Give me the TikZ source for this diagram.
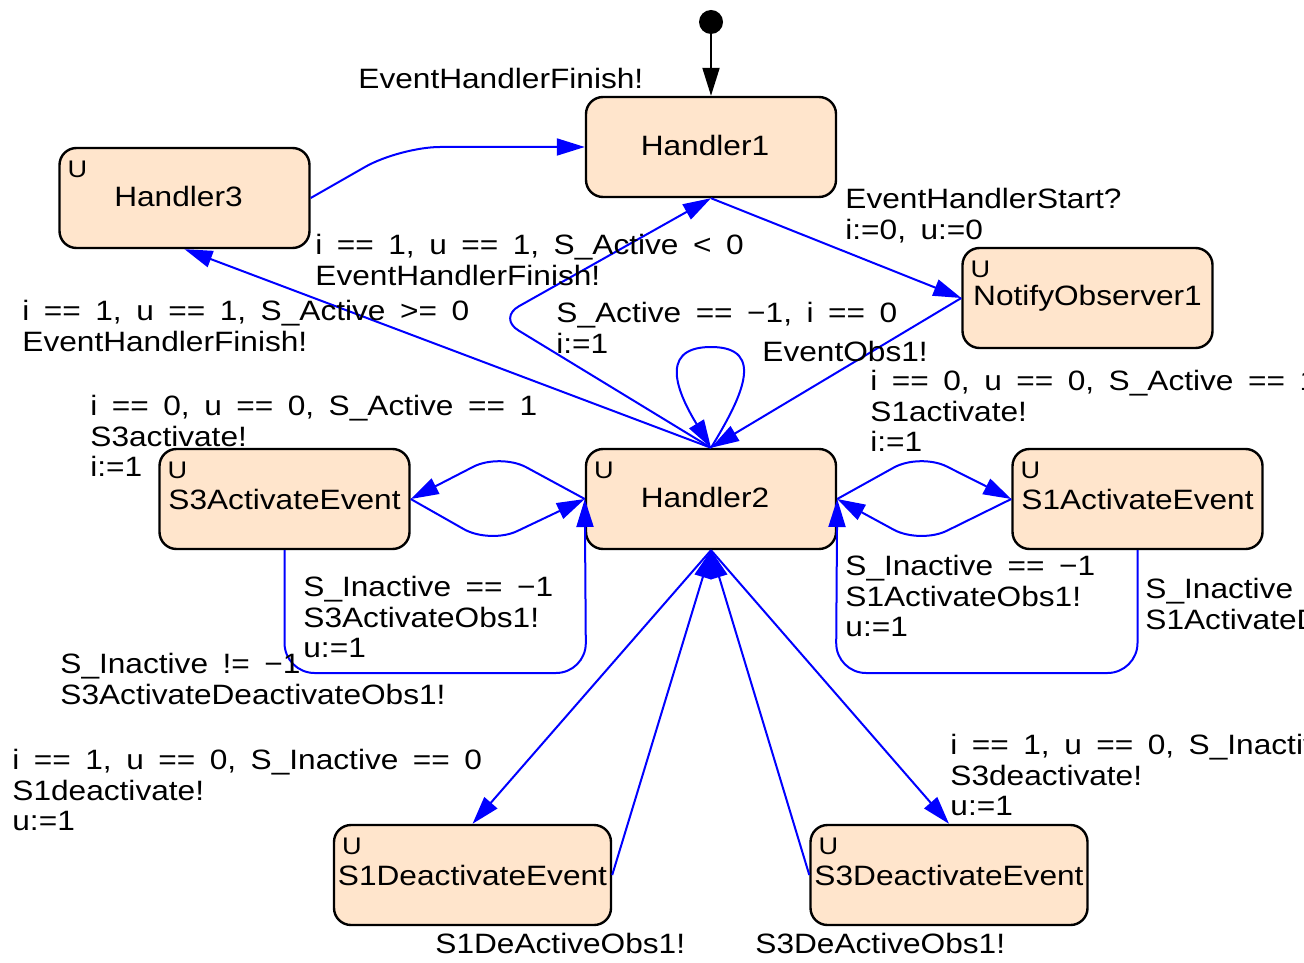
\documentclass[tikz,border=0pt]{standalone}
\usepackage{fontspec}
\setmainfont{Liberation Sans}[FakeStretch=1.13,WordSpace=1.65]
\usetikzlibrary{arrows.meta}
\definecolor{peach}{RGB}{255,229,204}
\begin{document}
\begin{tikzpicture}[x=0.5pt,y=-0.5pt,
 state/.style={draw=black, line width=1.2pt, fill=peach, rounded corners=8.5pt, minimum width=125pt, minimum height=50pt, inner sep=0pt, font=\fontsize{14}{15}\selectfont},
 widestate/.style={minimum width=138.5pt},
 ulab/.style={font=\fontsize{12}{12}\selectfont, inner sep=0pt, anchor=north west},
 lab/.style={font=\fontsize{14}{15.2}\selectfont, inner sep=0pt, anchor=north west, align=left},
 tr/.style={blue, line width=1pt, -{Triangle[length=14pt,width=8.5pt]}},
]
\useasboundingbox (0,0) rectangle (1304,962);
\clip (0,0) rectangle (1304,962);

% states
\node[state] (h1) at (711,147) {\raisebox{1.5pt}{Handler1}\hspace*{6pt}};
\node[state] (h3) at (184.5,198) {\raisebox{1.5pt}{Handler3}\hspace*{6pt}};
\node[state] (no) at (1087.5,298) {\raisebox{-2pt}{NotifyObserver1}};
\node[state] (h2) at (711,499) {\raisebox{1.5pt}{Handler2}\hspace*{6pt}};
\node[state] (s3a) at (284.5,499) {\raisebox{-1pt}{S3ActivateEvent}};
\node[state] (s1a) at (1137.5,499) {\raisebox{-1pt}{S1ActivateEvent}};
\node[state,widestate] (s1d) at (472.5,875) {\raisebox{-1pt}{S1DeactivateEvent}};
\node[state,widestate] (s3d) at (949,875) {\raisebox{-1pt}{S3DeactivateEvent}};

\node[ulab] (u3) at ([shift={(9,14)}]h3.north west) {U};
\node[ulab] (uno) at ([shift={(9,14)}]no.north west) {U};
\node[ulab] (u2) at ([shift={(9,14)}]h2.north west) {U};
\node[ulab] (us3a) at ([shift={(9,14)}]s3a.north west) {U};
\node[ulab] (us1a) at ([shift={(9,14)}]s1a.north west) {U};
\node[ulab] (us1d) at ([shift={(9,14)}]s1d.north west) {U};
\node[ulab] (us3d) at ([shift={(9,14)}]s3d.north west) {U};

% initial
\node[circle, fill=black, minimum size=12pt, inner sep=0pt] (init) at (711,22) {};
\draw[black, line width=1pt, -{Triangle[length=14pt,width=8.5pt]}] (init) -- (h1.north);

% transitions
\draw[tr, rounded corners=20pt] (h3.east) -- (400,147) -- (h1.west);
\draw[tr, rounded corners=12pt] (h2.north) -- (498,318) -- (h1.south);
\draw[tr] (h2.north) -- (h3.south);
\draw[tr] (h1.south) -- (no.west);
\draw[tr] (no.west) -- (h2.north);
\draw[tr] (h2.north) .. controls (740,400) and (768,347) .. (711,347) .. controls (654,347) and (682,400) .. (h2.north);
\draw[tr, rounded corners=15pt] (h2.west) -- (500,453) -- (s3a.east);
\draw[tr, rounded corners=15pt] (s3a.east) -- (490,544) -- (h2.west);
\draw[tr, rounded corners=15pt] (h2.east) -- (920,453) -- (s1a.west);
\draw[tr, rounded corners=15pt] (s1a.west) -- (920,544) -- (h2.east);
\draw[tr, rounded corners=15pt] (s3a.south) -- (284.5,673) -- (586,673) -- (h2.west);
\draw[tr, rounded corners=15pt] (s1a.south) -- (1137.5,673) -- (836,673) -- (h2.east);
\draw[tr] (h2.south) -- (s1d.north);
\draw[tr] (s1d.east) -- (h2.south);
\draw[tr] (h2.south) -- (s3d.north);
\draw[tr] (s3d.west) -- (h2.south);

% labels
\node[lab] (l1) at (358,68) {EventHandlerFinish!};
\node[lab] (l2) at (845,188) {EventHandlerStart?\\i:=0, u:=0};
\node[lab] (l3) at (315,234) {i == 1, u == 1, S\_Active < 0\\EventHandlerFinish!};
\node[lab] (l4) at (22,300) {i == 1, u == 1, S\_Active >= 0\\EventHandlerFinish!};
\node[lab] (l5) at (556,302) {S\_Active == −1, i == 0\\i:=1};
\node[lab] (l6) at (762,341) {EventObs1!};
\node[lab] (l7) at (870,370) {i == 0, u == 0, S\_Active == 1\\S1activate!\\i:=1};
\node[lab] (l8) at (90,395) {i == 0, u == 0, S\_Active == 1\\S3activate!\\i:=1};
\node[lab] (l9) at (303,576) {S\_Inactive == −1\\S3ActivateObs1!\\u:=1};
\node[lab] (l10) at (60,653) {S\_Inactive != −1\\S3ActivateDeactivateObs1!};
\node[lab] (l11) at (845,555) {S\_Inactive == −1\\S1ActivateObs1!\\u:=1};
\node[lab] (l12) at (1145,578) {S\_Inactive != −1\\S1ActivateDeactivateObs1!};
\node[lab] (l13) at (12,749) {i == 1, u == 0, S\_Inactive == 0\\S1deactivate!\\u:=1};
\node[lab] (l14) at (950,734) {i == 1, u == 0, S\_Inactive == 0\\S3deactivate!\\u:=1};
\node[lab] (l15) at (435,933) {S1DeActiveObs1!};
\node[lab] (l16) at (755,933) {S3DeActiveObs1!};
\end{tikzpicture}
\end{document}
